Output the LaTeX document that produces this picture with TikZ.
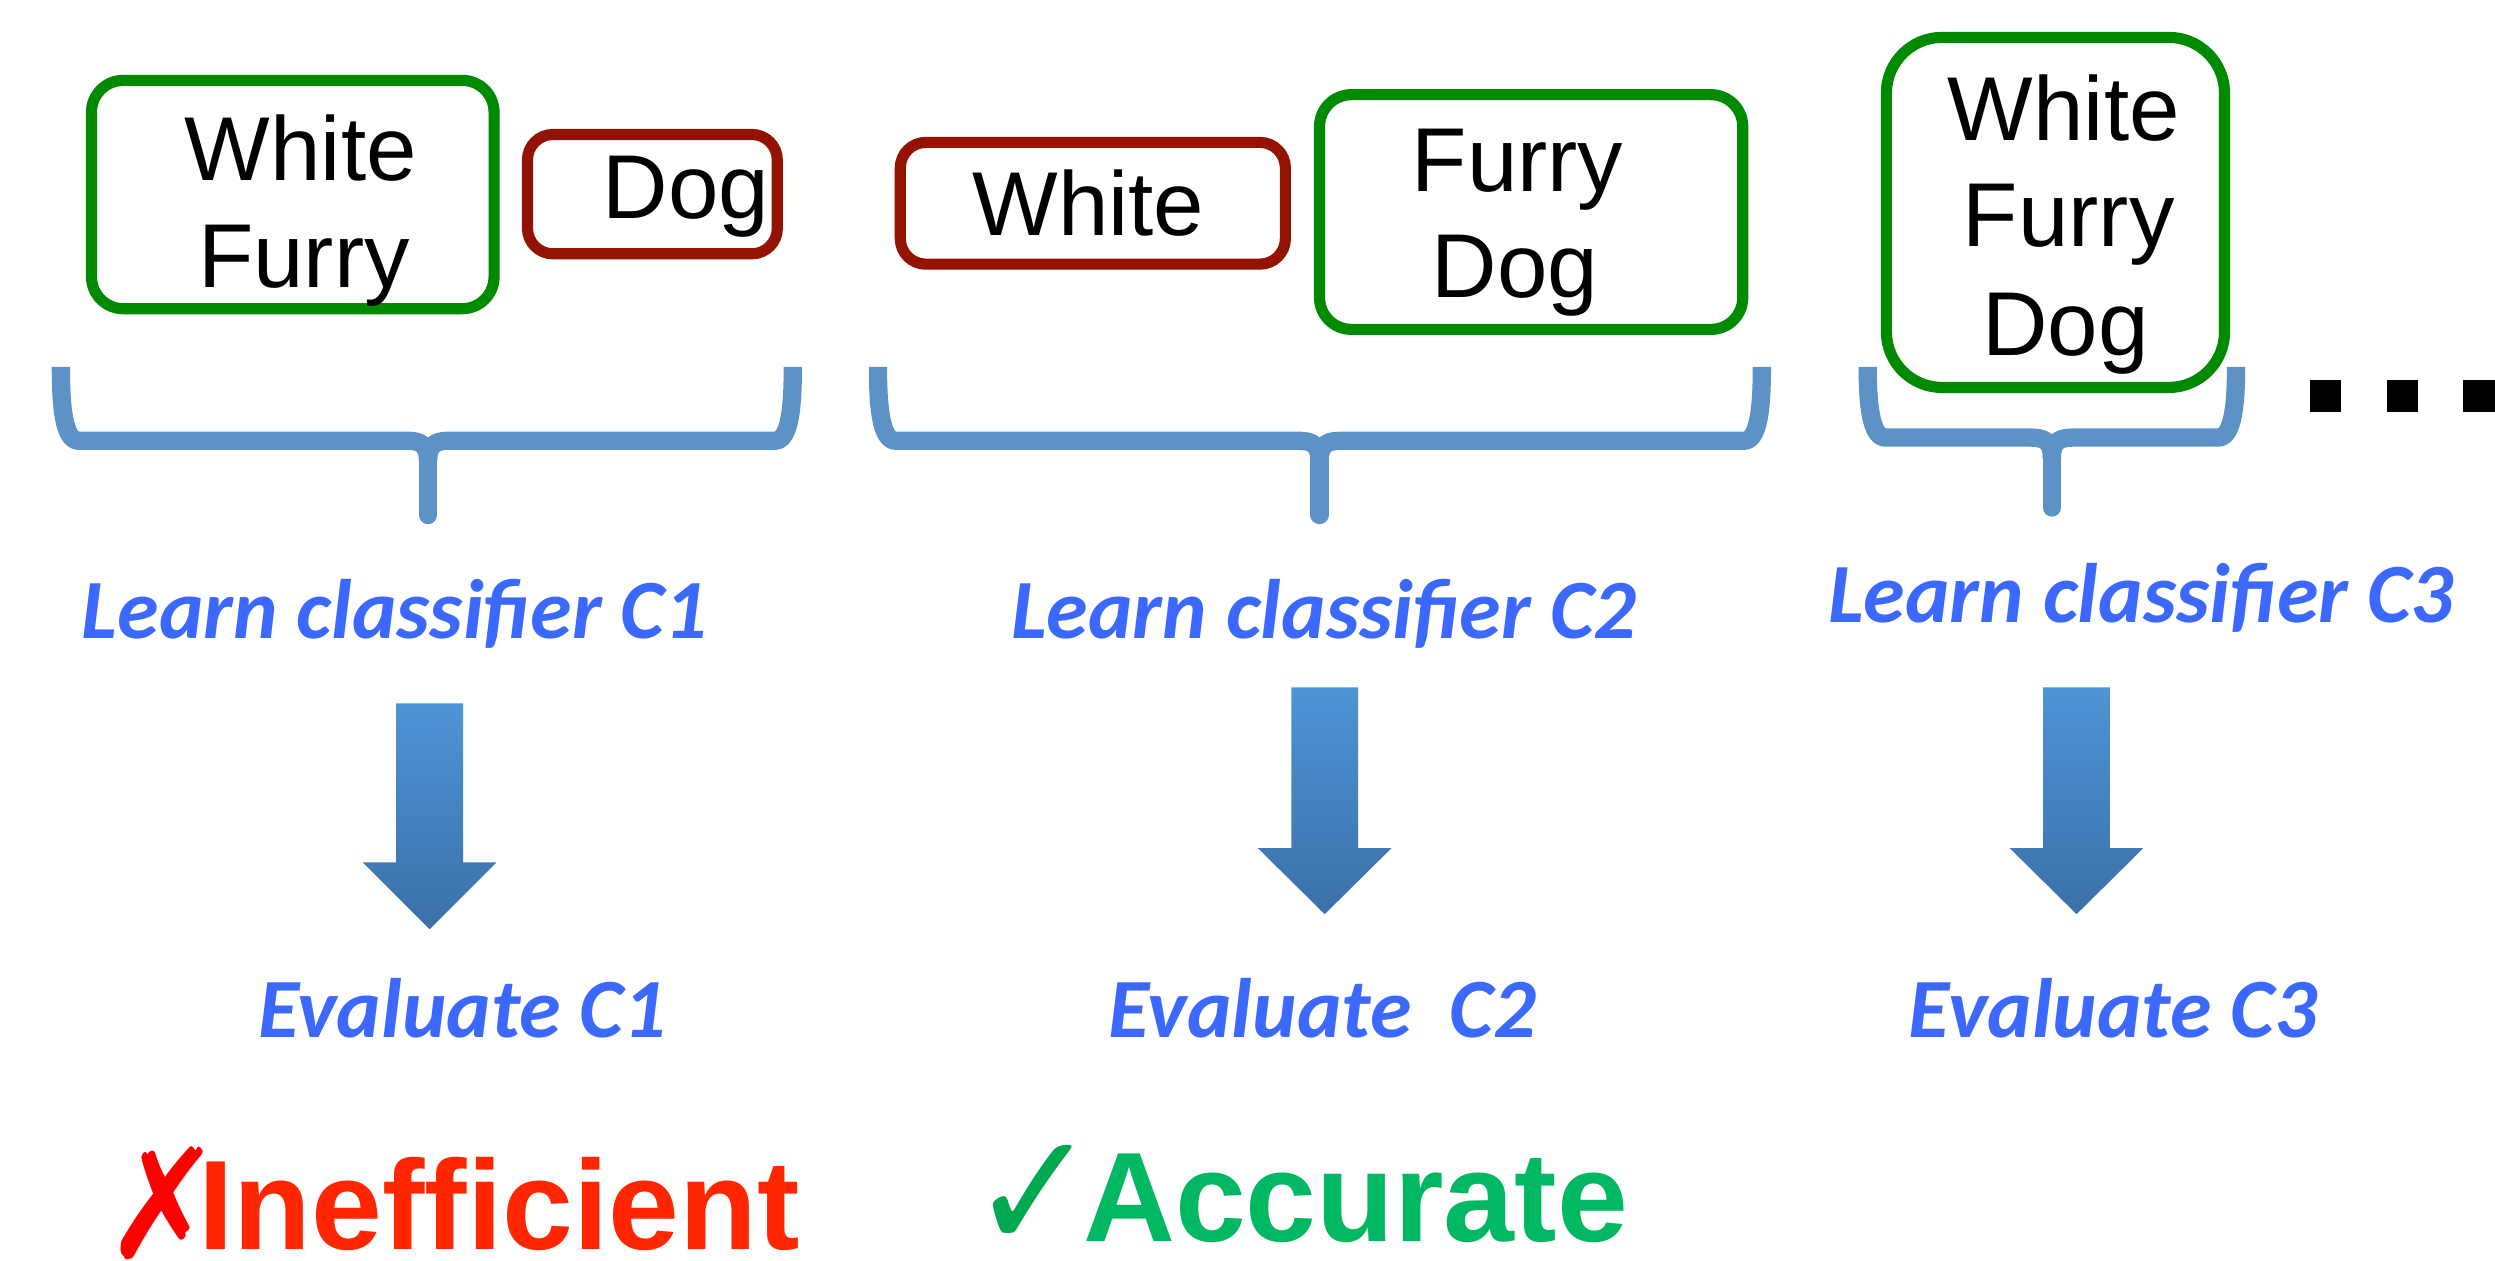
\documentclass[tikz,border=0pt]{standalone}
\usepackage{fontspec}
\setmainfont{Liberation Sans}
\newfontfamily\calfont{Carlito}
\newfontfamily\djvfont{DejaVu Sans}
\usetikzlibrary{shadows}
\definecolor{textblue}{RGB}{59,104,255}
\definecolor{braceblue}{RGB}{93,146,199}
\definecolor{boxgreen}{RGB}{0,138,0}
\definecolor{boxred}{RGB}{148,18,0}
\definecolor{arrtop}{RGB}{78,148,214}
\definecolor{arrbot}{RGB}{58,112,168}
\definecolor{ineffred}{RGB}{255,38,0}
\definecolor{xred}{RGB}{255,0,0}
\definecolor{accgreen}{RGB}{0,184,98}
\definecolor{checkgreen}{RGB}{0,168,80}
\tikzset{
  x=1pt, y=-1pt,
  boxbase/.style={line width=7pt, fill=white, inner sep=0pt, outer sep=0pt,
    drop shadow={shadow xshift=1.5pt, shadow yshift=-3pt, opacity=0.18}},
  gbox/.style={boxbase, draw=boxgreen, rounded corners=20pt},
  rbox/.style={boxbase, draw=boxred, rounded corners=16pt},
  word/.style={anchor=base, inner sep=0pt, font=\fontsize{57}{67}\selectfont},
  bluelabel/.style={anchor=base, inner sep=0pt, text=textblue,
    font=\calfont\bfseries\itshape\fontsize{53}{60}\selectfont},
  bigword/.style={anchor=base west, inner sep=0pt, text depth=0pt,
    font=\bfseries\fontsize{80}{90}\selectfont},
  marksym/.style={anchor=base, inner sep=0pt, text depth=0pt},
  bracearm/.style={draw=braceblue, line width=11.5pt, line join=round, line cap=butt},
  bracestem/.style={draw=braceblue, line width=11.5pt, line cap=round},
  arrshade/.style={top color=arrtop, bottom color=arrbot}
}
% brace: #1 left outer x, #2 right outer x, #3 middle x, #4 top y, #5 bar y, #6 tip y, #7 name
\newcommand\drawbrace[7]{%
  \coordinate (#7-l) at (#1+5.75,#4);
  \coordinate (#7-r) at (#2-5.75,#4);
  \coordinate (#7-m) at (#3,#5+13);
  \coordinate (#7-t) at (#3,#6-5.75);
  \draw[bracearm] (#7-l) .. controls (#1+5.75,#5-22) and (#1+7.5,#5) .. (#1+17,#5)
     -- (#3-13,#5) .. controls (#3-4,#5) and (#3,#5+3) .. (#7-m);
  \draw[bracearm] (#7-r) .. controls (#2-5.75,#5-22) and (#2-7.5,#5) .. (#2-17,#5)
     -- (#3+13,#5) .. controls (#3+4,#5) and (#3,#5+3) .. (#7-m);
  \draw[bracestem] (#7-m) -- (#7-t);
}
% block arrow: #1 centre x, #2 top y, #3 head base y, #4 tip y
\newcommand\blockarrow[4]{%
  \shade[arrshade] (#1-21,#2) -- (#1+21,#2) -- (#1+21,#3) -- (#1+42,#3)
     -- (#1,#4) -- (#1-42,#3) -- (#1-21,#3) -- cycle;
}
\begin{document}
\begin{tikzpicture}
\useasboundingbox (0,0) rectangle (1568,792);
\fill[white] (0,0) rectangle (1568,792);

% ---- braces ----
\drawbrace{32.5}{504}{269}{230.5}{277}{329.4}{br1}
\drawbrace{546}{1113}{829.3}{230.5}{277}{329.4}{br2}
\drawbrace{1168}{1411}{1289.5}{230.5}{275}{324.7}{br3}

% ---- boxes ----
\node[gbox, minimum width=253pt, minimum height=143.5pt] (b1) at (184,122.25) {};
\node[rbox, minimum width=157pt, minimum height=75pt] (b2) at (410,122) {};
\node[rbox, minimum width=242pt, minimum height=76.5pt] (b3) at (686.8,127.75) {};
\node[gbox, minimum width=266pt, minimum height=147.5pt] (b4) at (962.25,133.25) {};
\node[gbox, rounded corners=35pt, minimum width=212.5pt, minimum height=220pt] (b5) at (1291.75,133.5) {};

% ---- words ----
\node[word] (w1) at (189,113.6) {White};
\node[word] (f1) at (191,180.8) {Furry};
\node[word] (d1) at (431,137.6) {Dog};
\node[word] (w2) at (684,147.7) {White};
\node[word] (f2) at (953.6,120.2) {Furry};
\node[word] (d2) at (952,187.2) {Dog};
\node[word] (w3) at (1297,88.5) {White};
\node[word] (f3) at (1300,154.9) {Furry};
\node[word] (d3) at (1298,223.2) {Dog};

% ---- dots ----
\fill[black] (1452,239) rectangle (1471.5,259);
\fill[black] (1500,239) rectangle (1519.5,259);
\fill[black] (1548,239) rectangle (1568,259);

% ---- labels ----
\node[bluelabel] (l1) at (248,401) {Learn classifier C1};
\node[bluelabel] (l2) at (832,401) {Learn classifier C2};
\node[bluelabel] (l3) at (1345.5,391) {Learn classifier C3};
\node[bluelabel] (e1) at (290.5,652) {Evaluate C1};
\node[bluelabel] (e2) at (831,652) {Evaluate\ \ C2};
\node[bluelabel] (e3) at (1328,652) {Evaluate C3};

% ---- arrows ----
\blockarrow{270}{442}{542}{584}
\blockarrow{832.5}{432}{533}{574.5}
\blockarrow{1305}{432}{533}{574.5}

% ---- verdicts ----
\node[marksym, text=xred, font=\djvfont\fontsize{96}{100}\selectfont, xscale=0.92] (xm) at (102.5,791) {✗};
\node[bigword, text=ineffred] (ineff) at (124.6,785.2) {Inefficient};
\node[marksym, text=checkgreen, font=\djvfont\fontsize{104}{110}\selectfont, xscale=0.92] (ck) at (650,785.5) {✓};
\node[bigword, text=accgreen] (acc) at (680.5,780.4) {Accurate};
\end{tikzpicture}
\end{document}
